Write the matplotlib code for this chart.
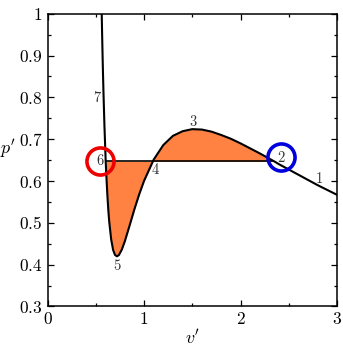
import matplotlib
matplotlib.use("Agg")
import matplotlib.pyplot as plt
import numpy as np

plt.rcParams['mathtext.fontset'] = 'cm'
plt.rcParams['font.family'] = 'serif'

# reduced volume / pressure read from the isotherm
v = [0.55, 0.555, 0.56, 0.565, 0.57, 0.575, 0.58, 0.59, 0.60, 0.603, 0.61, 0.62, 0.63,
     0.64, 0.66, 0.68, 0.70, 0.72, 0.74, 0.77, 0.80, 0.85, 0.90, 0.95, 1.00, 1.10,
     1.20, 1.30, 1.40, 1.50, 1.60, 1.70, 1.80, 1.90, 2.00, 2.20, 2.349, 2.40, 2.60,
     2.80, 3.00]
p = [1.160, 1.088, 1.022, 0.962, 0.907, 0.857, 0.812, 0.732, 0.667, 0.647, 0.612, 0.568, 0.531,
     0.502, 0.460, 0.435, 0.423, 0.420, 0.423, 0.436, 0.455, 0.493, 0.532, 0.568, 0.600, 0.651,
     0.686, 0.708, 0.719, 0.724, 0.723, 0.718, 0.710, 0.701, 0.690, 0.666, 0.647, 0.640, 0.615,
     0.590, 0.567]
p_eq = 0.647
v_liq, v_gas = 0.603, 2.349

pt_labels = ['1', '2', '3', '4', '5', '6', '7']
pt_v = [2.81, 2.42, 1.51, 1.12, 0.72, 0.545, 0.52]
pt_p = [0.607, 0.657, 0.742, 0.627, 0.397, 0.648, 0.800]

circ_v = [0.545, 2.42]
circ_p = [0.648, 0.657]
circ_col = ['#ee0000', '#0000dd']

xticks = [0, 1, 2, 3]
yticks = [0.3, 0.4, 0.5, 0.6, 0.7, 0.8, 0.9, 1.0]
ytick_labels = ['0.3', '0.4', '0.5', '0.6', '0.7', '0.8', '0.9', '1']

fig = plt.figure(figsize=(3.43, 3.48), dpi=100)
ax = fig.add_axes([0.1385, 0.1193, 0.8440, 0.8413])

va = np.array(v); pa = np.array(p)
mask = (va >= v_liq) & (va <= v_gas)
ax.fill_between(va, pa, p_eq, where=mask, color='#ff8242', lw=0, interpolate=True)
ax.plot(va, pa, color='black', lw=1.5)
ax.hlines(p_eq, v_liq, v_gas, color='black', lw=1.2)

for lab, x, y in zip(pt_labels, pt_v, pt_p):
    ax.text(x, y, '$' + lab + '$', fontsize=10.5, color='#333333', ha='center', va='center')

for x, y, c in zip(circ_v, circ_p, circ_col):
    ax.plot([x], [y], marker='o', ms=19.5, mfc='none', mec=c, mew=2.6)

ax.set_xlim(0, 3)
ax.set_ylim(0.3, 1.0)
ax.set_xticks(xticks)
ax.set_xticklabels(['$%d$' % t for t in xticks])
ax.set_yticks(yticks)
ax.set_yticklabels(['$' + s + '$' for s in ytick_labels])
ax.set_xticks(np.arange(0.5, 3, 1.0), minor=True)
ax.set_yticks(np.arange(0.35, 1.0, 0.1), minor=True)
ax.tick_params(which='both', direction='in', top=True, right=True, labelsize=12.5, width=0.9)
ax.tick_params(which='major', length=4)
ax.tick_params(which='minor', length=2.5)
for s in ax.spines.values():
    s.set_linewidth(1.1)

ax.set_xlabel("$v'$", fontsize=13, labelpad=0.5)
ax.set_ylabel("$p'$", fontsize=13, rotation=0, labelpad=8)

fig.savefig('out.png', dpi=100)
